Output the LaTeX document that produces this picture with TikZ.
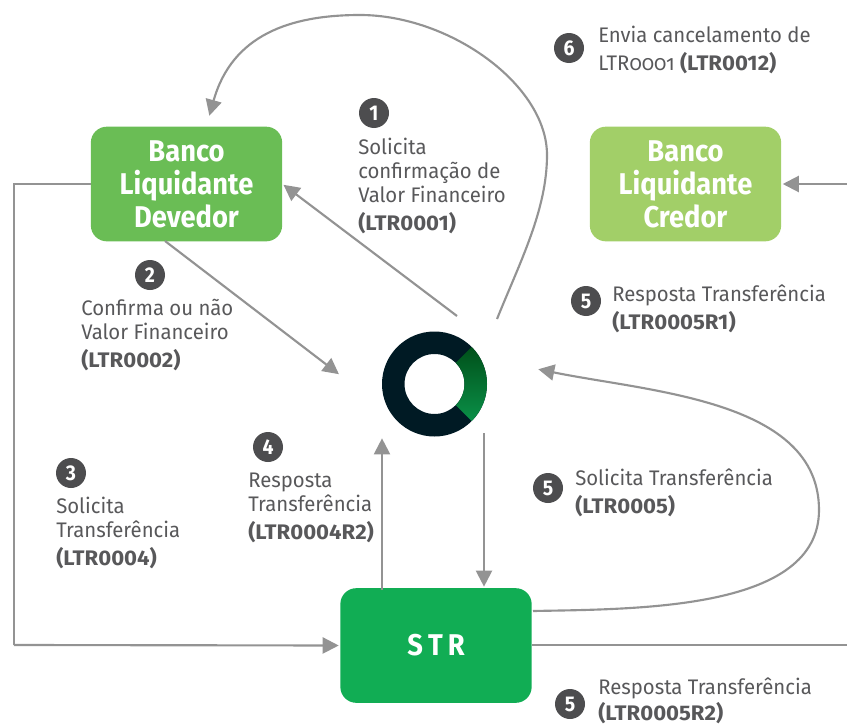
\documentclass[tikz,border=0pt]{standalone}
\usepackage{fontspec}
\setmainfont[FakeStretch=0.965,BoldFeatures={FakeStretch=1.05}]{Fira Sans}
\usepackage{tikz}
\usetikzlibrary{arrows.meta}
\definecolor{devedorgreen}{HTML}{6ABD55}
\definecolor{credorgreen}{HTML}{A2CF68}
\definecolor{strgreen}{HTML}{11AD54}
\definecolor{hubdark}{HTML}{001A24}
\definecolor{ringtop}{HTML}{00501A}
\definecolor{ringbottom}{HTML}{0A9048}
\definecolor{linegray}{HTML}{939393}
\definecolor{textgray}{HTML}{58585A}
\definecolor{badgegray}{HTML}{4D4D4F}
\newcommand{\code}[1]{\textbf{(#1)}}
\newfontfamily\oldnum[Numbers=OldStyle,FakeStretch=0.965]{Fira Sans}
\newfontfamily\bankfont[BoldFeatures={FakeStretch=0.91}]{Fira Sans}

\begin{document}
\begin{tikzpicture}[x=0.75pt,y=-0.75pt,
    bank node/.style={rectangle,rounded corners=12pt,minimum width=143.5pt,minimum height=86pt,
      inner sep=0pt,align=center,text=white,font=\bankfont\fontsize{22.5}{24.8}\selectfont\bfseries},
    step badge/.style={circle,fill=badgegray,text=white,minimum size=22.5pt,inner sep=0pt,
      font=\bankfont\fontsize{16}{16}\selectfont\bfseries},
    step text/.style={anchor=north west,inner sep=0pt,align=left,text=textgray,
      font=\fontsize{15.8}{18.2}\selectfont},
    link/.style={draw=linegray,line width=1.6pt},
    arrow link/.style={link,-{Triangle[length=12pt,width=12pt]},shorten >=1pt}]
  \useasboundingbox (0,0) rectangle (847,728);

  % banks
  \node[bank node,fill=devedorgreen] (devedor) at (186.5,184) {Banco\\Liquidante\\Devedor};
  \node[bank node,fill=credorgreen] (credor) at (685.5,184) {Banco\\Liquidante\\Credor};
  \node[bank node,fill=strgreen] (str) at (436,645.5) {S\,T\,R};

  % ring in the middle
  \node[circle,minimum size=78.75pt,inner sep=0pt] (hub) at (434.5,384) {};
  \fill[hubdark,even odd rule] (hub) circle[radius=52.5] (hub) circle[radius=30];
  \shade[top color=ringtop,bottom color=ringbottom]
    (hub.center) ++(45:52.5) arc[start angle=45,end angle=-45,radius=52.5]
    -- ++(135:22.5) arc[start angle=-45,end angle=45,radius=30] -- cycle;

  % free ends
  \coordinate (west) at (14,184);
  \coordinate (southwest) at (14,645);
  \coordinate (eastin) at (847,184);
  \coordinate (eastout) at (847,645);
  \coordinate (hubnw) at (457,316);
  \coordinate (hubne) at (497,319);
  \coordinate (hubw) at (340,375);
  \coordinate (hube) at (537,369);
  \coordinate (hubsw) at (382,437);
  \coordinate (hubse) at (484,433);
  \coordinate (devtop) at (209,117);
  \coordinate (devbot) at (165,241);
  \coordinate (strtl) at (382,590);
  \coordinate (strtr) at (484,588);
  \coordinate (strr) at (533,611);

  % connectors
  \draw[link] (devedor.west) -- (west) -- (southwest);
  \draw[arrow link] (southwest) -- (str.west);
  \draw[arrow link] (eastin) -- (credor.east);
  \draw[link] (str.east |- eastout) -- (eastout);
  \draw[arrow link] (hubnw) -- (devedor.east);
  \draw[arrow link] (devbot) -- (hubw);
  \draw[arrow link] (strtl) -- (hubsw);
  \draw[arrow link] (hubse) -- (strtr);
  \draw[arrow link] (hubne) .. controls (520,262) and (547,210) .. (547,155)
    .. controls (547,85) and (450,15) .. (360,15)
    .. controls (290,15) and (232,35) .. (devtop);
  \draw[arrow link] (strr) .. controls (640,609) and (819,610) .. (819,510)
    .. controls (819,400) and (650,392) .. (hube);

  % steps
  \node[step badge] (b1) at (374,113) {1};
  \node[step text] (t1) at (358,137.5) {Solicita\\confirmação de\\Valor Financeiro\\[2.8pt]\code{LTR0001}};
  \node[step badge] (b2) at (150,275) {2};
  \node[step text] (t2) at (81,298.5) {Confirma ou não\\Valor Financeiro\\[2.8pt]\code{LTR0002}};
  \node[step badge] (b3) at (71,473) {3};
  \node[step text] (t3) at (56,496.5) {Solicita\\Transferência\\[2.8pt]\code{LTR0004}};
  \node[step badge] (b4) at (268,447) {4};
  \node[step text] (t4) at (248,472.5) {Resposta\\Transferência\\[2.8pt]\code{LTR0004R2}};
  \node[step badge] (b5a) at (586,301) {5};
  \node[step text] (t5a) at (612,285) {Resposta Transferência\\[2.8pt]\code{LTR0005R1}};
  \node[step badge] (b5b) at (548,488) {5};
  \node[step text] (t5b) at (575,469) {Solicita Transferência\\[2.8pt]\code{LTR0005}};
  \node[step badge] (b5c) at (570,704) {5};
  \node[step text] (t5c) at (598,677.5) {Resposta Transferência\\[1.5pt]\code{LTR0005R2}};
  \node[step badge] (b6) at (569,48) {6};
  \node[step text] (t6) at (598,26) {Envia cancelamento de\\[2.8pt]{\oldnum LTR0001} \code{LTR0012}};
\end{tikzpicture}
\end{document}
